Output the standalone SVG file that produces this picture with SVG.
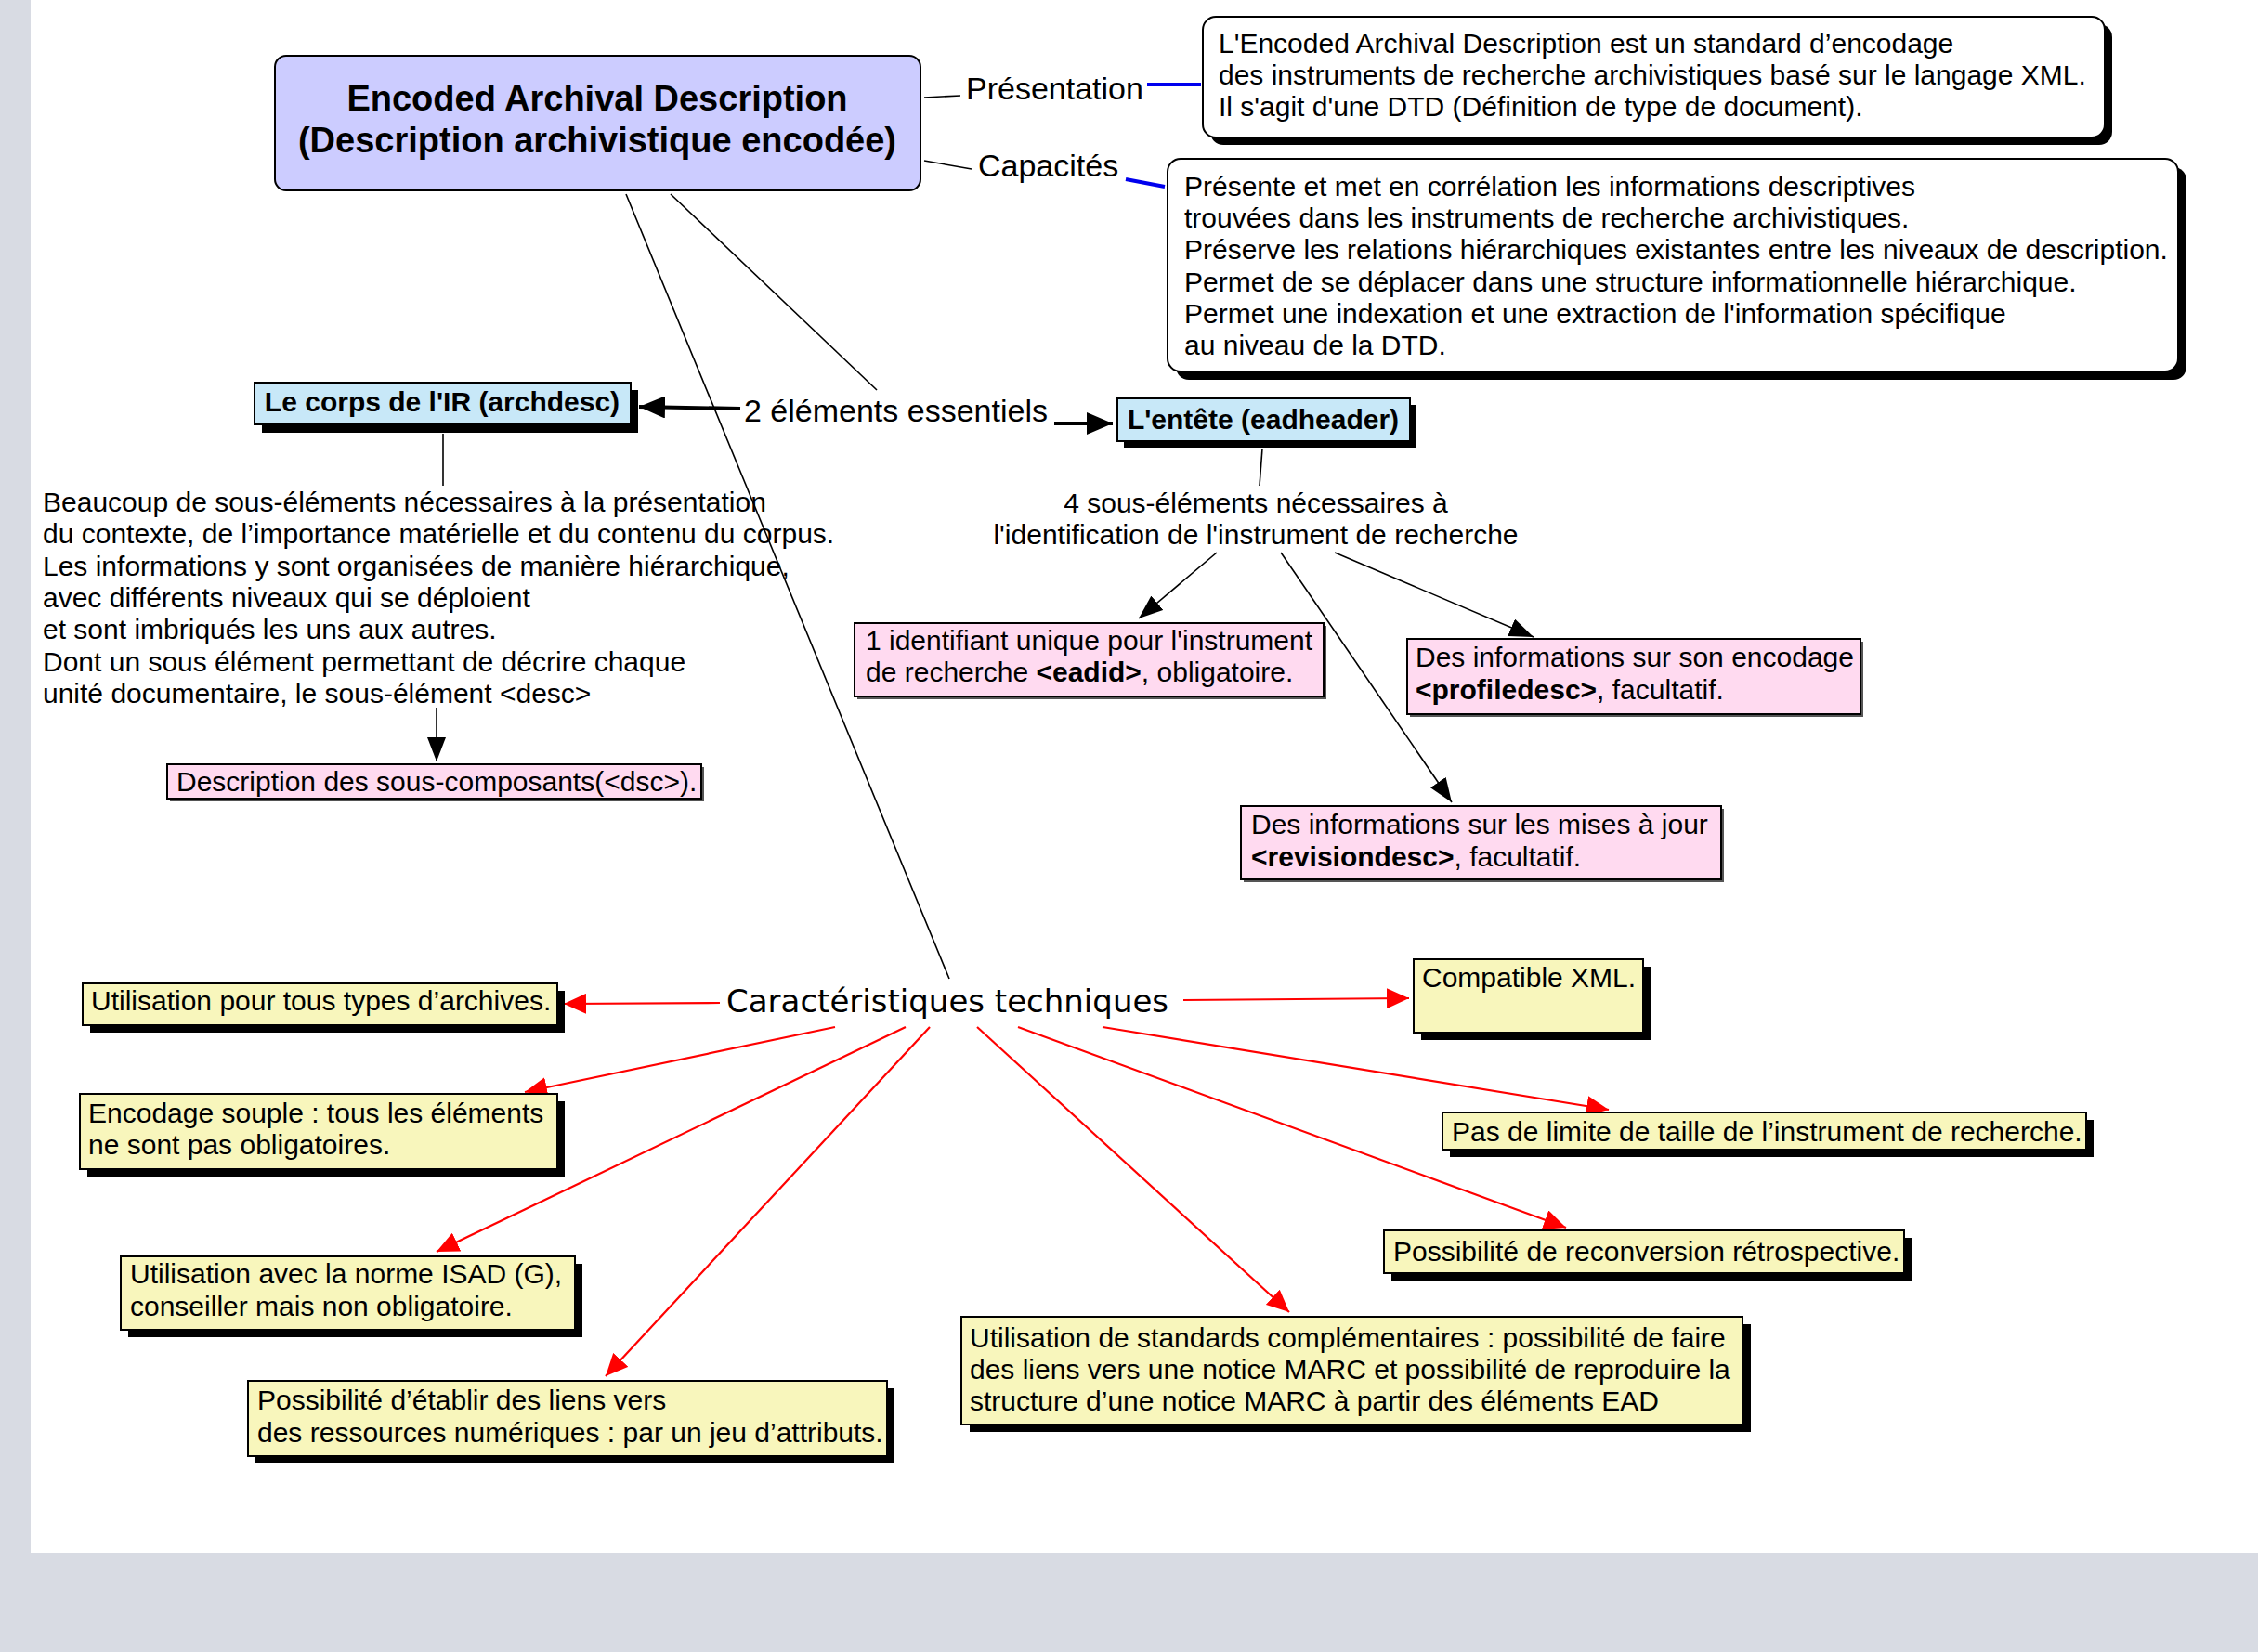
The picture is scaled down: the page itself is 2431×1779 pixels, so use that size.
<svg xmlns="http://www.w3.org/2000/svg" width="2431" height="1779" viewBox="0 0 2431 1779">
<style>
text{font-family:"Liberation Sans",Arial,sans-serif;font-size:30px;fill:#000}
.title{font-size:38px;font-weight:bold;text-anchor:middle}
.lbl{font-size:34px}
.car{font-family:"DejaVu Sans",Verdana,sans-serif;font-size:34px}
.b{font-weight:bold}
.hd{font-weight:bold;font-size:30px}
.sh{fill:#000}
.shp{fill:#555}
.main{fill:#CCCCFF;stroke:#000;stroke-width:2}
.note{fill:#fff;stroke:#000;stroke-width:2}
.blue{fill:#C8E8F8;stroke:#000;stroke-width:2}
.pink{fill:#FFDAF0;stroke:#000;stroke-width:2}
.yel{fill:#F8F6BC;stroke:#000;stroke-width:2}
.ln{stroke:#000;stroke-width:1.6;fill:none}
.thick{stroke:#000;stroke-width:4;fill:none}
.bl{stroke:#0000EE;stroke-width:4;fill:none}
.red{stroke:#FF0000;stroke-width:2.2;fill:none}
</style>
<defs>
<marker id="ab" markerUnits="userSpaceOnUse" markerWidth="26" markerHeight="20" refX="26" refY="10" orient="auto"><path d="M0,0 L26,10 L0,20 z" fill="#000"/></marker>
<marker id="abig" markerUnits="userSpaceOnUse" markerWidth="28" markerHeight="24" refX="28" refY="12" orient="auto"><path d="M0,0 L28,12 L0,24 z" fill="#000"/></marker>
<marker id="ar" markerUnits="userSpaceOnUse" markerWidth="24" markerHeight="22" refX="24" refY="11" orient="auto"><path d="M0,0 L24,11 L0,22 z" fill="#FF0000"/></marker>
</defs>
<rect x="0" y="0" width="2431" height="1779" fill="#D8DBE3"/>
<rect x="33" y="0" width="2398" height="1672" fill="#fff"/>

<g id="connectors">
<line class="ln" x1="995" y1="105" x2="1034" y2="103"/>
<line class="bl" x1="1235" y1="91" x2="1293" y2="91"/>
<line class="ln" x1="995" y1="173" x2="1046" y2="182"/>
<line class="bl" x1="1212" y1="193" x2="1254" y2="201"/>
<line class="ln" x1="722" y1="209" x2="944" y2="420"/>
<line class="ln" x1="674" y1="209" x2="1022" y2="1054"/>
<line class="thick" x1="797" y1="440" x2="688" y2="438" marker-end="url(#abig)"/>
<line class="thick" x1="1135" y1="456" x2="1198" y2="456" marker-end="url(#abig)"/>
<line class="ln" x1="477" y1="467" x2="477" y2="523"/>
<line class="ln" x1="470" y1="762" x2="470" y2="820" marker-end="url(#ab)"/>
<line class="ln" x1="1359" y1="483" x2="1356" y2="523"/>
<line class="ln" x1="1310" y1="595" x2="1226" y2="666" marker-end="url(#ab)"/>
<line class="ln" x1="1379" y1="595" x2="1563" y2="864" marker-end="url(#ab)"/>
<line class="ln" x1="1437" y1="595" x2="1651" y2="686" marker-end="url(#ab)"/>
<line class="red" x1="775" y1="1080" x2="607" y2="1081" marker-end="url(#ar)"/>
<line class="red" x1="899" y1="1106" x2="565" y2="1176" marker-end="url(#ar)"/>
<line class="red" x1="975" y1="1106" x2="470" y2="1348" marker-end="url(#ar)"/>
<line class="red" x1="1001" y1="1106" x2="652" y2="1482" marker-end="url(#ar)"/>
<line class="red" x1="1052" y1="1106" x2="1388" y2="1413" marker-end="url(#ar)"/>
<line class="red" x1="1096" y1="1106" x2="1686" y2="1322" marker-end="url(#ar)"/>
<line class="red" x1="1187" y1="1106" x2="1732" y2="1195" marker-end="url(#ar)"/>
<line class="red" x1="1274" y1="1077" x2="1517" y2="1075" marker-end="url(#ar)"/>
</g>

<g id="main">
<rect class="main" x="296" y="60" width="695" height="145" rx="12"/>
<text class="title" x="643" y="119">Encoded Archival Description</text>
<text class="title" x="643" y="164">(Description archivistique encodée)</text>
</g>

<g id="lbl-presentation"><text class="lbl" x="1040" y="107">Présentation</text></g>
<g id="lbl-capacites"><text class="lbl" x="1053" y="190">Capacités</text></g>

<g id="presentation">
<rect class="sh" x="1303" y="26" width="971" height="130" rx="14"/>
<rect class="note" x="1295" y="18" width="971" height="130" rx="14"/>
<text x="1312" y="57">L'Encoded Archival Description est un standard d’encodage</text>
<text x="1312" y="91">des instruments de recherche archivistiques basé sur le langage XML.</text>
<text x="1312" y="125">Il s'agit d'une DTD (Définition de type de document).</text>
</g>

<g id="capacites">
<rect class="sh" x="1266" y="180" width="1088" height="229" rx="14"/>
<rect class="note" x="1257" y="171" width="1088" height="229" rx="14"/>
<text x="1275" y="211">Présente et met en corrélation les informations descriptives</text>
<text x="1275" y="245">trouvées dans les instruments de recherche archivistiques.</text>
<text x="1275" y="279">Préserve les relations hiérarchiques existantes entre les niveaux de description.</text>
<text x="1275" y="314">Permet de se déplacer dans une structure informationnelle hiérarchique.</text>
<text x="1275" y="348">Permet une indexation et une extraction de l'information spécifique</text>
<text x="1275" y="382">au niveau de la DTD.</text>
</g>

<g id="deux-elements"><text class="lbl" x="801" y="454">2 éléments essentiels</text></g>

<g id="archdesc">
<rect class="sh" x="282" y="420" width="405" height="46"/>
<rect class="blue" x="274" y="412" width="405" height="45"/>
<text class="hd" x="476" y="443" text-anchor="middle">Le corps de l'IR (archdesc)</text>
</g>

<g id="eadheader">
<rect class="sh" x="1210" y="436" width="315" height="46"/>
<rect class="blue" x="1203" y="429" width="315" height="46"/>
<text class="hd" x="1360" y="462" text-anchor="middle">L'entête (eadheader)</text>
</g>

<g id="beaucoup">
<text x="46" y="551">Beaucoup de sous-éléments nécessaires à la présentation</text>
<text x="46" y="585">du contexte, de l’importance matérielle et du contenu du corpus.</text>
<text x="46" y="620">Les informations y sont organisées de manière hiérarchique,</text>
<text x="46" y="654">avec différents niveaux qui se déploient</text>
<text x="46" y="688">et sont imbriqués les uns aux autres.</text>
<text x="46" y="723">Dont un sous élément permettant de décrire chaque</text>
<text x="46" y="757">unité documentaire, le sous-élément &lt;desc&gt;</text>
</g>

<g id="dsc">
<rect class="shp" x="183" y="826" width="575" height="37"/>
<rect class="pink" x="180" y="823" width="575" height="37"/>
<text x="190" y="852">Description des sous-composants(&lt;dsc&gt;).</text>
</g>

<g id="quatre-sous">
<text x="1352" y="552" text-anchor="middle">4 sous-éléments nécessaires à</text>
<text x="1352" y="586" text-anchor="middle">l'identification de l'instrument de recherche</text>
</g>

<g id="eadid">
<rect class="shp" x="923" y="674" width="505" height="79"/>
<rect class="pink" x="920" y="671" width="505" height="79"/>
<text x="932" y="700">1 identifiant unique pour l'instrument</text>
<text x="932" y="734">de recherche <tspan class="b">&lt;eadid&gt;</tspan>, obligatoire.</text>
</g>

<g id="profiledesc">
<rect class="shp" x="1518" y="691" width="488" height="81"/>
<rect class="pink" x="1515" y="688" width="488" height="81"/>
<text x="1524" y="718">Des informations sur son encodage</text>
<text x="1524" y="753"><tspan class="b">&lt;profiledesc&gt;</tspan>, facultatif.</text>
</g>

<g id="revisiondesc">
<rect class="shp" x="1339" y="871" width="517" height="79"/>
<rect class="pink" x="1336" y="868" width="517" height="79"/>
<text x="1347" y="898">Des informations sur les mises à jour</text>
<text x="1347" y="933"><tspan class="b">&lt;revisiondesc&gt;</tspan>, facultatif.</text>
</g>

<g id="caracteristiques"><text class="car" x="782" y="1090">Caractéristiques techniques</text></g>

<g id="c-archives">
<rect class="sh" x="97" y="1067" width="511" height="45"/>
<rect class="yel" x="89" y="1059" width="511" height="45"/>
<text x="98" y="1088">Utilisation pour tous types d’archives.</text>
</g>

<g id="c-encodage">
<rect class="sh" x="94" y="1186" width="514" height="81"/>
<rect class="yel" x="86" y="1178" width="514" height="81"/>
<text x="95" y="1209">Encodage souple : tous les éléments</text>
<text x="95" y="1243">ne sont pas obligatoires.</text>
</g>

<g id="c-isad">
<rect class="sh" x="138" y="1361" width="489" height="79"/>
<rect class="yel" x="130" y="1353" width="489" height="79"/>
<text x="140" y="1382">Utilisation avec la norme ISAD (G),</text>
<text x="140" y="1417">conseiller mais non obligatoire.</text>
</g>

<g id="c-liens">
<rect class="sh" x="275" y="1495" width="688" height="81"/>
<rect class="yel" x="267" y="1487" width="688" height="81"/>
<text x="277" y="1518">Possibilité d’établir des liens vers</text>
<text x="277" y="1553">des ressources numériques : par un jeu d’attributs.</text>
</g>

<g id="c-marc">
<rect class="sh" x="1044" y="1426" width="841" height="116"/>
<rect class="yel" x="1035" y="1418" width="841" height="116"/>
<text x="1044" y="1451">Utilisation de standards complémentaires : possibilité de faire</text>
<text x="1044" y="1485">des liens vers une notice MARC et possibilité de reproduire la</text>
<text x="1044" y="1519">structure d’une notice MARC à partir des éléments EAD</text>
</g>

<g id="c-reconversion">
<rect class="sh" x="1498" y="1333" width="560" height="46"/>
<rect class="yel" x="1490" y="1325" width="560" height="46"/>
<text x="1500" y="1358">Possibilité de reconversion rétrospective.</text>
</g>

<g id="c-taille">
<rect class="sh" x="1561" y="1206" width="693" height="40"/>
<rect class="yel" x="1553" y="1198" width="693" height="40"/>
<text x="1563" y="1229">Pas de limite de taille de l’instrument de recherche.</text>
</g>

<g id="c-xml">
<rect class="sh" x="1530" y="1041" width="247" height="79"/>
<rect class="yel" x="1522" y="1033" width="247" height="79"/>
<text x="1531" y="1063">Compatible XML.</text>
</g>
</svg>
